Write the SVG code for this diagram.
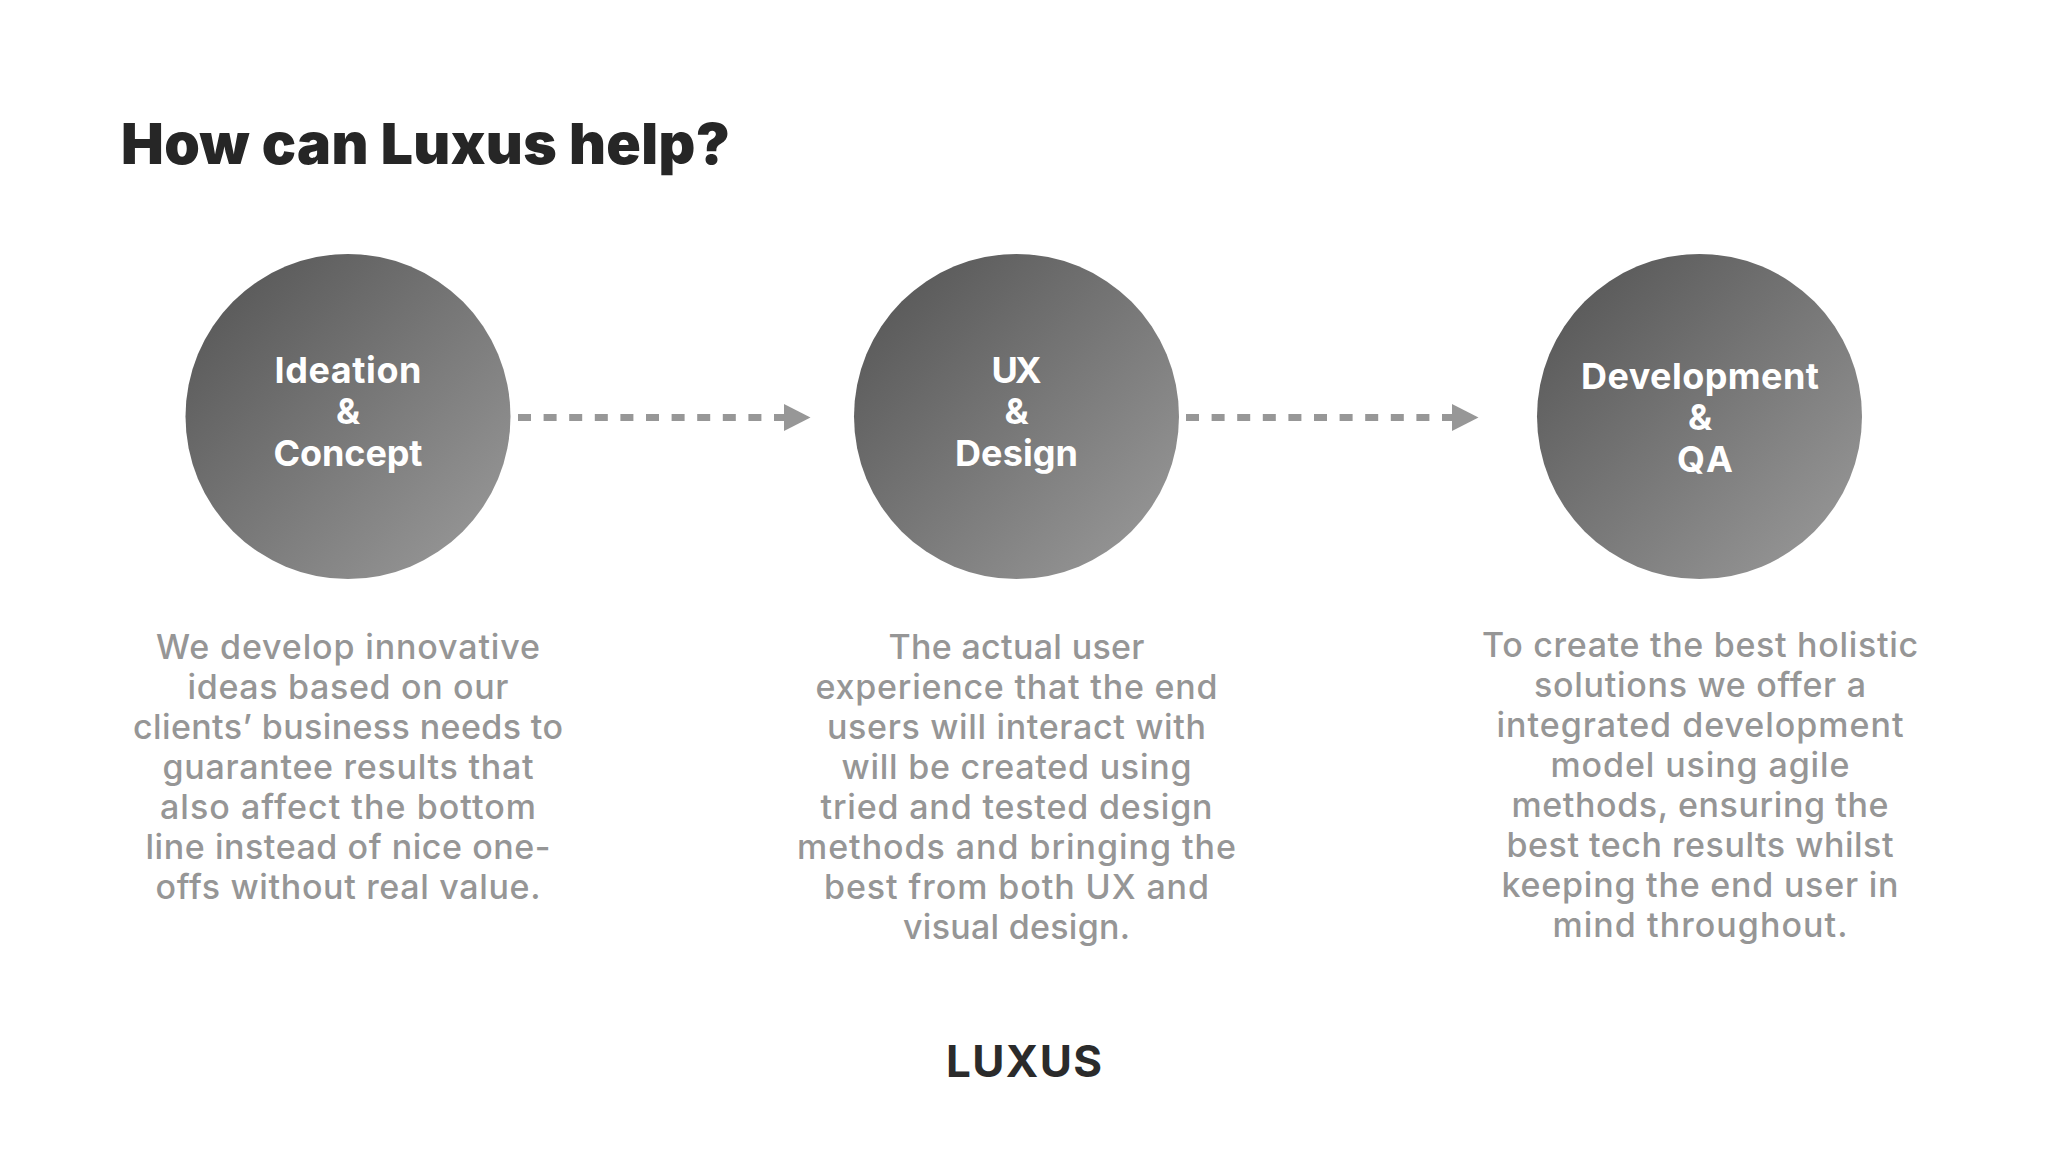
<svg xmlns="http://www.w3.org/2000/svg" width="2048" height="1152" viewBox="0 0 2048 1152">
<style>
text{font-family:"Inter","Liberation Sans",sans-serif;text-anchor:middle}
.title{font-size:57px;font-weight:900;fill:#262626;text-anchor:start}
.lab{font-size:36px;font-weight:700;fill:#fff}
.body{font-size:34px;font-weight:500;fill:#969696}
.logo{font-size:44px;font-weight:700;fill:#2b2b2b}
.dash{stroke:#979797;stroke-width:7;stroke-dasharray:13 12.6;fill:none}
.head{fill:#979797}
</style>
<defs>
<linearGradient id="g" x1="0.1" y1="0.1" x2="0.9" y2="0.9"><stop offset="0" stop-color="#595959"/><stop offset="1" stop-color="#959595"/></linearGradient>
</defs>
<rect width="2048" height="1152" fill="#fff"/>
<text class="title" x="121" y="164" textLength="609">How can Luxus help?</text>
<g id="connectors">
<g id="c1"><path class="dash" d="M518 417.500H785"/><path class="head" d="M784 404L810.500 417.500L784 431Z"/></g>
<g id="c2"><path class="dash" d="M1186 417.500H1453"/><path class="head" d="M1452 404L1478.500 417.500L1452 431Z"/></g>
</g>
<g id="node-ideation">
<circle cx="348" cy="416.500" r="162.500" fill="url(#g)"/>
<text class="lab" x="348" y="383" textLength="147">Ideation</text>
<text class="lab" x="348" y="424" textLength="24">&amp;</text>
<text class="lab" x="348" y="466" textLength="149">Concept</text>
<g class="body-text">
<text class="body" x="348" y="658.500" textLength="384">We develop innovative</text>
<text class="body" x="348" y="698.500" textLength="321">ideas based on our</text>
<text class="body" x="348" y="738.500" textLength="430">clients’ business needs to</text>
<text class="body" x="348" y="778.500" textLength="371">guarantee results that</text>
<text class="body" x="348" y="818.500" textLength="376">also affect the bottom</text>
<text class="body" x="348" y="858.500" textLength="405">line instead of nice one-</text>
<text class="body" x="348" y="898.500" textLength="385">offs without real value.</text>
</g>
</g>
<g id="node-ux">
<circle cx="1016.500" cy="416.500" r="162.500" fill="url(#g)"/>
<text class="lab" x="1016.500" y="383" textLength="50">UX</text>
<text class="lab" x="1016.500" y="424" textLength="24">&amp;</text>
<text class="lab" x="1016.500" y="466" textLength="123">Design</text>
<g class="body-text">
<text class="body" x="1016.500" y="658.500" textLength="256">The actual user</text>
<text class="body" x="1016.500" y="698.500" textLength="402">experience that the end</text>
<text class="body" x="1016.500" y="738.500" textLength="379">users will interact with</text>
<text class="body" x="1016.500" y="778.500" textLength="350">will be created using</text>
<text class="body" x="1016.500" y="818.500" textLength="392">tried and tested design</text>
<text class="body" x="1016.500" y="858.500" textLength="439">methods and bringing the</text>
<text class="body" x="1016.500" y="898.500" textLength="385">best from both UX and</text>
<text class="body" x="1016.500" y="938.500" textLength="227">visual design.</text>
</g>
</g>
<g id="node-dev">
<circle cx="1699.500" cy="416.500" r="162.500" fill="url(#g)"/>
<text class="lab" x="1700" y="389" textLength="238">Development</text>
<text class="lab" x="1700" y="430" textLength="24">&amp;</text>
<text class="lab" x="1705" y="472" textLength="56">QA</text>
<g class="body-text">
<text class="body" x="1700" y="657" textLength="436">To create the best holistic</text>
<text class="body" x="1700" y="697" textLength="332">solutions we offer a</text>
<text class="body" x="1700" y="737" textLength="407">integrated development</text>
<text class="body" x="1700" y="777" textLength="299">model using agile</text>
<text class="body" x="1700" y="817" textLength="377">methods, ensuring the</text>
<text class="body" x="1700" y="857" textLength="387">best tech results whilst</text>
<text class="body" x="1700" y="897" textLength="397">keeping the end user in</text>
<text class="body" x="1700" y="937" textLength="295">mind throughout.</text>
</g>
</g>
<text class="logo" id="logo" x="1024" y="1077" textLength="156">LUXUS</text>
</svg>
